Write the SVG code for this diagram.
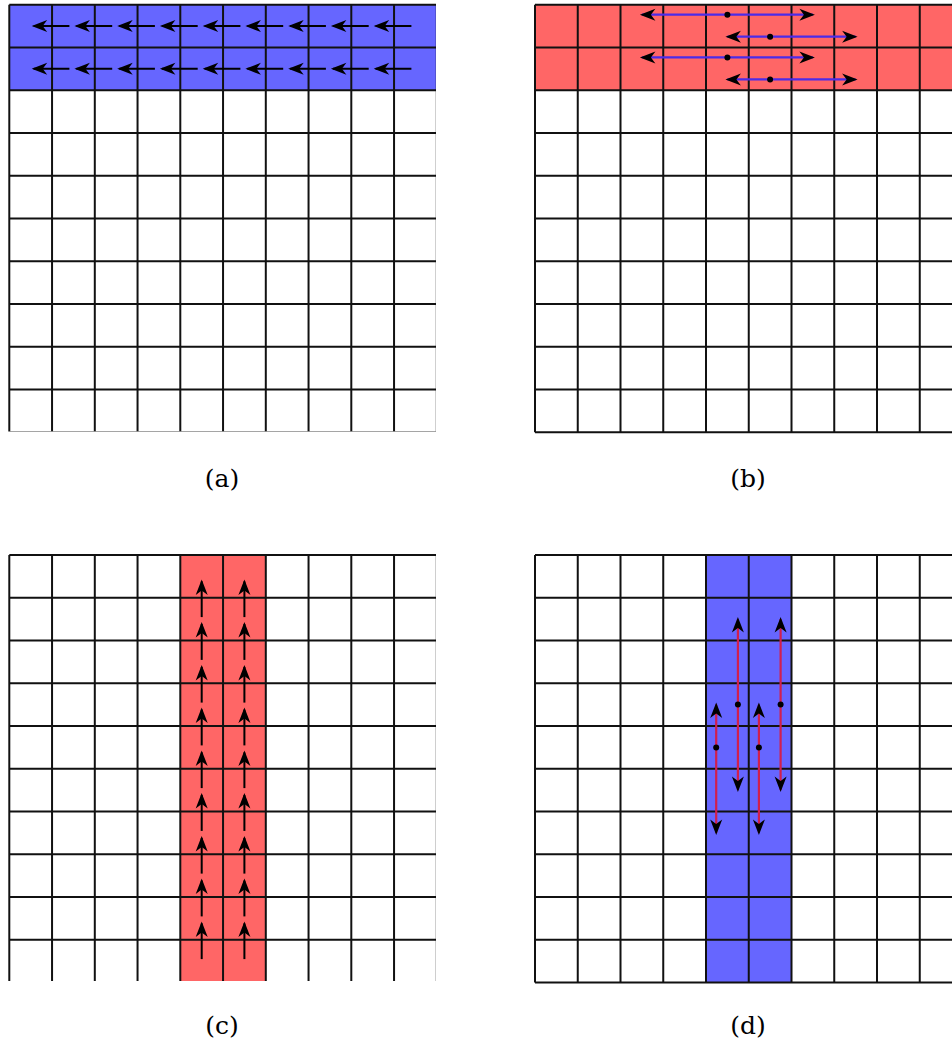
<svg xmlns="http://www.w3.org/2000/svg" xmlns:xlink="http://www.w3.org/1999/xlink" width="952" height="1047" viewBox="0 0 952 1047">
<style>
.grid{fill:none;stroke:#111;stroke-width:2}
.blue{fill:#6666FF}
.red{fill:#FF6666}
.arr{stroke:#000;stroke-width:2;fill:none;marker-end:url(#head)}
.dbl{stroke-width:2.2;fill:none;marker-start:url(#head);marker-end:url(#head)}
.bl{stroke:#4B2BE8}
.rd{stroke:#D11F4D}
.dot{fill:#000}
.lbl{font-family:"DejaVu Serif","Liberation Serif",serif;font-size:25px;fill:#000;text-anchor:middle}
</style>
<defs>
<marker id="head" markerUnits="userSpaceOnUse" viewBox="-16 -8 20 16" markerWidth="20" markerHeight="16" refX="0" refY="0" orient="auto-start-reverse" overflow="visible">
<path d="M2,0 L-13.5,-6 L-9,0 L-13.5,6 Z" fill="#000"/>
</marker>
<path id="gridp" d="M0,0V427.5M42.75,0V427.5M85.5,0V427.5M128.25,0V427.5M171,0V427.5M213.75,0V427.5M256.5,0V427.5M299.25,0V427.5M342,0V427.5M384.75,0V427.5M427.5,0V427.5M0,0H427.5M0,42.75H427.5M0,85.5H427.5M0,128.25H427.5M0,171H427.5M0,213.75H427.5M0,256.5H427.5M0,299.25H427.5M0,342H427.5M0,384.75H427.5M0,427.5H427.5"/>
<clipPath id="ca"><rect x="7" y="3" width="429" height="428.5"/></clipPath>
<clipPath id="cb"><rect x="533" y="3" width="419" height="431"/></clipPath>
<clipPath id="cc"><rect x="7" y="553" width="429" height="428"/></clipPath>
<clipPath id="cd"><rect x="533" y="553" width="419" height="431"/></clipPath>
</defs>

<g id="panel-a" clip-path="url(#ca)">
<rect class="blue" x="9.3" y="4.7" width="427.5" height="85.5"/>
<use xlink:href="#gridp" href="#gridp" class="grid" x="9.3" y="4.7"/>
</g>
<g id="panel-b" clip-path="url(#cb)">
<rect class="red" x="535" y="4.7" width="427.5" height="85.5"/>
<use xlink:href="#gridp" href="#gridp" class="grid" x="535" y="4.7"/>
</g>
<g id="panel-c" clip-path="url(#cc)">
<rect class="red" x="180.3" y="555" width="85.5" height="427.5"/>
<use xlink:href="#gridp" href="#gridp" class="grid" x="9.3" y="555"/>
</g>
<g id="panel-d" clip-path="url(#cd)">
<rect class="blue" x="706" y="555" width="85.5" height="427.5"/>
<use xlink:href="#gridp" href="#gridp" class="grid" x="535" y="555"/>
</g>

<g id="connectors">
<g id="arrows-a">
<path class="arr" d="M69.4,26.1H33.7"/><path class="arr" d="M112.2,26.1H76.4"/><path class="arr" d="M154.9,26.1H119.2"/><path class="arr" d="M197.7,26.1H161.9"/><path class="arr" d="M240.4,26.1H204.7"/><path class="arr" d="M283.2,26.1H247.4"/><path class="arr" d="M325.9,26.1H290.2"/><path class="arr" d="M368.7,26.1H332.9"/><path class="arr" d="M411.4,26.1H375.7"/>
<path class="arr" d="M69.4,68.8H33.7"/><path class="arr" d="M112.2,68.8H76.4"/><path class="arr" d="M154.9,68.8H119.2"/><path class="arr" d="M197.7,68.8H161.9"/><path class="arr" d="M240.4,68.8H204.7"/><path class="arr" d="M283.2,68.8H247.4"/><path class="arr" d="M325.9,68.8H290.2"/><path class="arr" d="M368.7,68.8H332.9"/><path class="arr" d="M411.4,68.8H375.7"/>
</g>
<g id="arrows-b">
<path class="dbl bl" d="M641.9,14.7H812.9"/>
<path class="dbl bl" d="M727.4,36.7H855.6"/>
<path class="dbl bl" d="M641.9,57.4H812.9"/>
<path class="dbl bl" d="M727.4,79.4H855.6"/>
<circle class="dot" cx="727.4" cy="14.7" r="3"/>
<circle class="dot" cx="770.1" cy="36.7" r="3"/>
<circle class="dot" cx="727.4" cy="57.4" r="3"/>
<circle class="dot" cx="770.1" cy="79.4" r="3"/>
</g>
<g id="arrows-c">
<path class="arr" d="M201.7,617.1V581.4"/><path class="arr" d="M201.7,659.9V624.1"/><path class="arr" d="M201.7,702.6V666.9"/><path class="arr" d="M201.7,745.4V709.6"/><path class="arr" d="M201.7,788.1V752.4"/><path class="arr" d="M201.7,830.9V795.1"/><path class="arr" d="M201.7,873.6V837.9"/><path class="arr" d="M201.7,916.4V880.6"/><path class="arr" d="M201.7,959.1V923.4"/>
<path class="arr" d="M244.4,617.1V581.4"/><path class="arr" d="M244.4,659.9V624.1"/><path class="arr" d="M244.4,702.6V666.9"/><path class="arr" d="M244.4,745.4V709.6"/><path class="arr" d="M244.4,788.1V752.4"/><path class="arr" d="M244.4,830.9V795.1"/><path class="arr" d="M244.4,873.6V837.9"/><path class="arr" d="M244.4,916.4V880.6"/><path class="arr" d="M244.4,959.1V923.4"/>
</g>
<g id="arrows-d">
<path class="dbl rd" d="M716.2,704.6V832.9"/>
<path class="dbl rd" d="M737.9,619.1V790.1"/>
<path class="dbl rd" d="M758.9,704.6V832.9"/>
<path class="dbl rd" d="M780.6,619.1V790.1"/>
<circle class="dot" cx="716.2" cy="747.4" r="3"/>
<circle class="dot" cx="737.9" cy="704.6" r="3"/>
<circle class="dot" cx="758.9" cy="747.4" r="3"/>
<circle class="dot" cx="780.6" cy="704.6" r="3"/>
</g>
</g>

<g id="labels">
<text class="lbl" x="222" y="487">(a)</text>
<text class="lbl" x="748" y="487">(b)</text>
<text class="lbl" x="222" y="1034">(c)</text>
<text class="lbl" x="748" y="1034">(d)</text>
</g>
</svg>
